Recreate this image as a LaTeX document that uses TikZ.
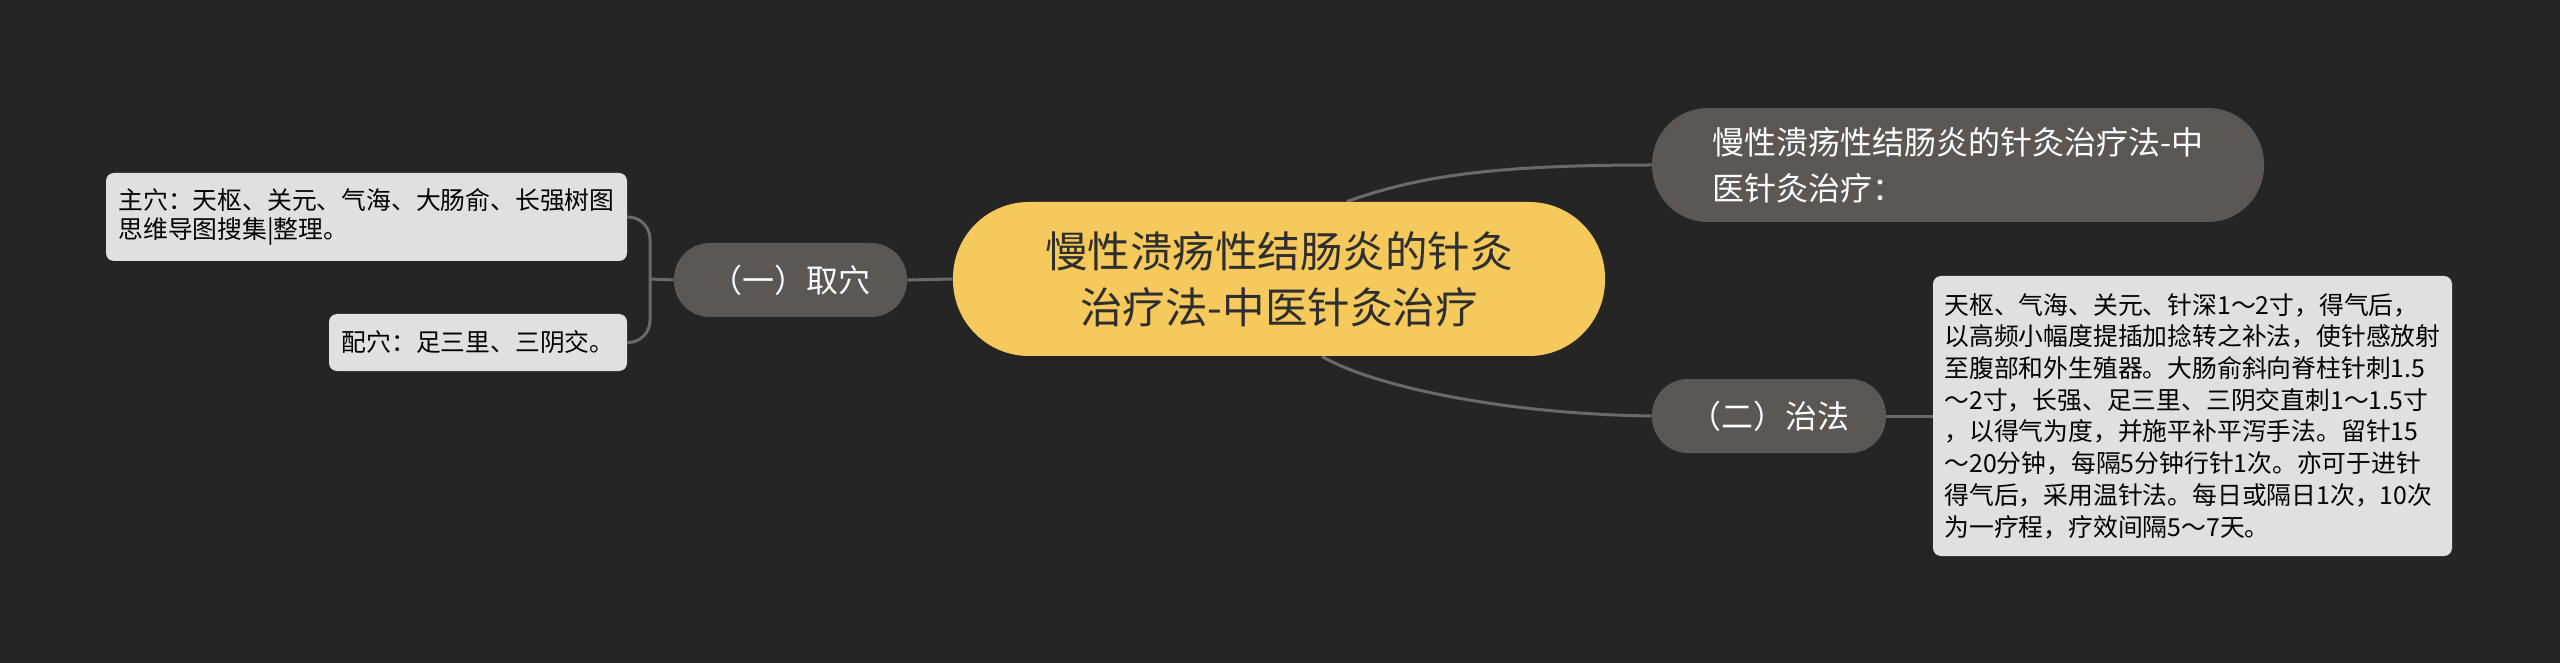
\documentclass[tikz,border=0pt]{standalone}
\usepackage{fontspec}
\setmainfont{Noto Sans CJK SC}
\usetikzlibrary{calc}
\definecolor{bgc}{HTML}{252525}
\definecolor{yellowc}{HTML}{F5C95C}
\definecolor{grayc}{HTML}{5A5754}
\definecolor{lightc}{HTML}{E0E0E0}
\definecolor{linec}{HTML}{6A6A6A}
\definecolor{darktext}{HTML}{2E2E2E}
\pgfdeclarelayer{back}
\pgfsetlayers{back,main}
\begin{document}
\begin{tikzpicture}[x=0.5pt,y=-0.5pt,
  centralnode/.style={fill=yellowc, text=darktext, font=\fontsize{21.25pt}{28pt}\selectfont, align=center,
    minimum width=326pt, minimum height=77pt, rounded corners=38pt, inner sep=0pt},
  pillnode/.style={fill=grayc, text=white, font=\fontsize{16pt}{23pt}\selectfont, align=left, inner sep=0pt},
  leafbox/.style={fill=lightc, text=black, align=left, inner sep=0pt, rounded corners=4pt},
  conn/.style={draw=linec, line width=1.5pt}]
\begin{pgfonlayer}{back}
\fill[bgc] (0,0) rectangle (2560,663);
\end{pgfonlayer}
\useasboundingbox (0,0) rectangle (2560,663);

\node[centralnode] (central) at (1279,279) {慢性溃疡性结肠炎的针灸\\治疗法-中医针灸治疗};
\node[pillnode, minimum width=116.5pt, minimum height=37pt, rounded corners=18pt] (qu) at (790.5,280) {（一）取穴};
\node[pillnode, minimum width=306pt, minimum height=57pt, rounded corners=28pt] (rt) at (1958,165) {慢性溃疡性结肠炎的针灸治疗法-中\\医针灸治疗：};
\node[pillnode, minimum width=117pt, minimum height=37pt, rounded corners=18pt] (zf) at (1769,416) {（二）治法};
\node[leafbox, font=\fontsize{12.4pt}{14.75pt}\selectfont, minimum width=260.5pt, minimum height=44pt] (zhu) at (366.5,217) {主穴：天枢、关元、气海、大肠俞、长强树图\\思维导图搜集|整理。};
\node[leafbox, font=\fontsize{12.4pt}{14.75pt}\selectfont, minimum width=149pt, minimum height=28.5pt] (pei) at (478,342.5) {配穴：足三里、三阴交。};
\node[leafbox, font=\fontsize{12.4pt}{15.85pt}\selectfont, minimum width=259.5pt, minimum height=140pt] (big) at (2192.5,416) {天枢、气海、关元、针深1～2寸，得气后，\\以高频小幅度提插加捻转之补法，使针感放射\\至腹部和外生殖器。大肠俞斜向脊柱针刺1.5\\～2寸，长强、足三里、三阴交直刺1～1.5寸\\，以得气为度，并施平补平泻手法。留针15\\～20分钟，每隔5分钟行针1次。亦可于进针\\得气后，采用温针法。每日或隔日1次，10次\\为一疗程，疗效间隔5～7天。};

\coordinate (brk) at (650,279);
\begin{pgfonlayer}{back}
\draw[conn] (central.west) -- (qu.east);
\draw[conn] (qu.west) -- (brk);
\draw[conn, rounded corners=11pt] (zhu.east) -| (brk) |- (pei.east);
\draw[conn] ([xshift=34pt]central.north) .. controls (1420,175) and (1500,165) .. (rt.west);
\draw[conn] ([xshift=21.5pt]central.south) .. controls (1370,385) and (1500,414) .. (zf.west);
\draw[conn] (zf.east) -- (big.west);
\end{pgfonlayer}
\end{tikzpicture}
\end{document}
